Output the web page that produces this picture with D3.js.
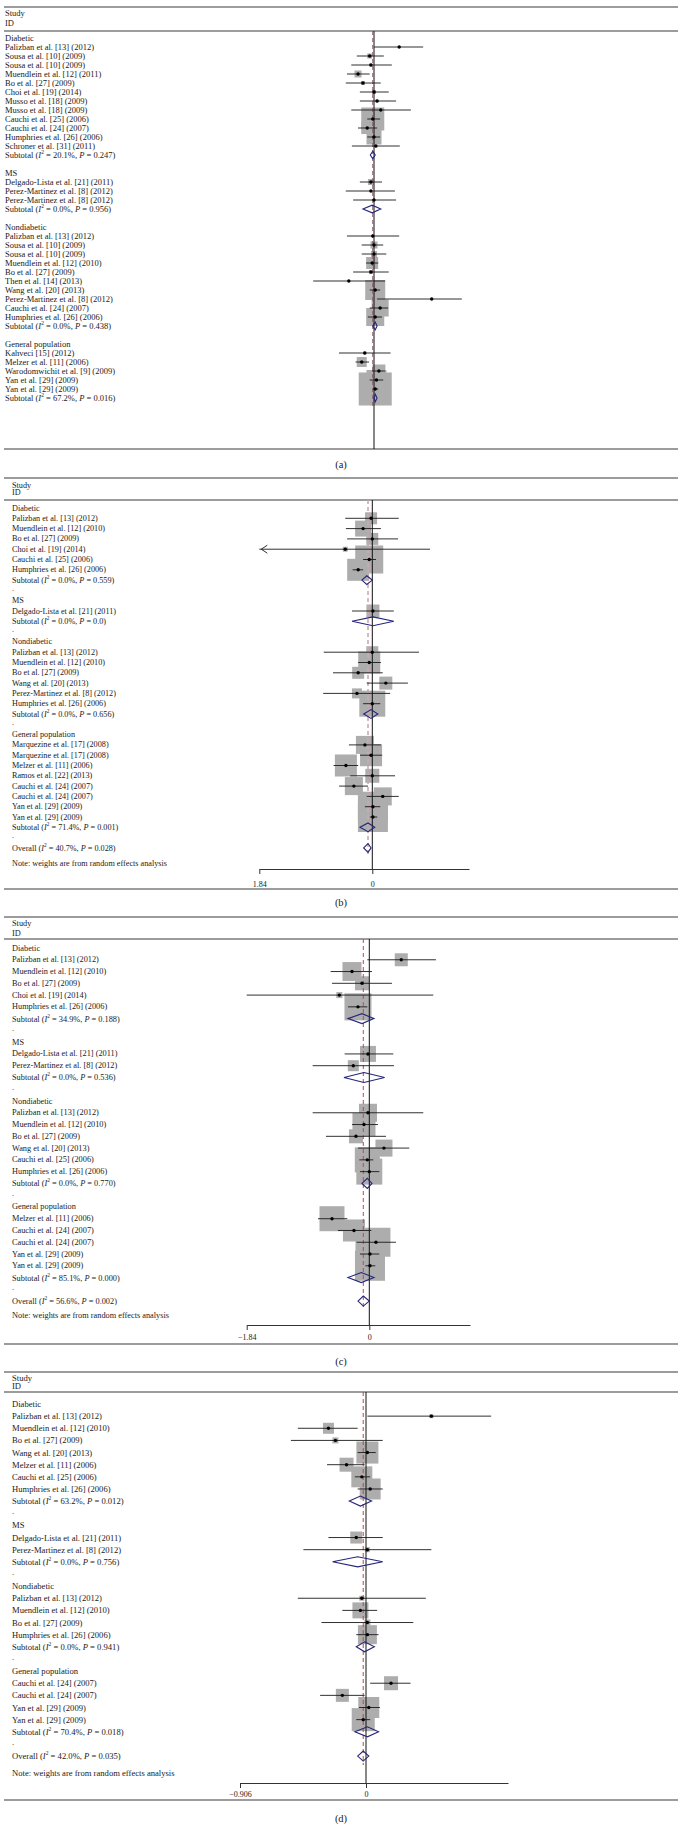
<!DOCTYPE html>
<html><head><meta charset="utf-8">
<script src="https://cdn.jsdelivr.net/npm/d3@7"></script>
<style>body{margin:0;background:#fff}svg{display:block}</style>
</head><body>
<svg id="chart" width="682" height="1827"></svg>
<script>
const groupNames = ["Diabetic", "MS", "Nondiabetic", "General population"];

// ---------- Panel (a) ----------
const aStudies = [
 "Palizban et al. [13] (2012)","Sousa et al. [10] (2009)","Sousa et al. [10] (2009)","Muendlein et al. [12] (2011)",
 "Bo et al. [27] (2009)","Choi et al. [19] (2014)","Musso et al. [18] (2009)","Musso et al. [18] (2009)",
 "Cauchi et al. [25] (2006)","Cauchi et al. [24] (2007)","Humphries et al. [26] (2006)","Schroner et al. [31] (2011)",
 "Delgado-Lista et al. [21] (2011)","Perez-Martinez et al. [8] (2012)","Perez-Martinez et al. [8] (2012)",
 "Palizban et al. [13] (2012)","Sousa et al. [10] (2009)","Sousa et al. [10] (2009)","Muendlein et al. [12] (2010)",
 "Bo et al. [27] (2009)","Then et al. [14] (2013)","Wang et al. [20] (2013)","Perez-Martinez et al. [8] (2012)",
 "Cauchi et al. [24] (2007)","Humphries et al. [26] (2006)",
 "Kahveci [15] (2012)","Melzer et al. [11] (2006)","Warodomwichit et al. [9] (2009)","Yan et al. [29] (2009)","Yan et al. [29] (2009)"];
const aGroupSizes = [12, 3, 10, 5];
const aEst  = [0.41,-0.07,-0.05,-0.26,-0.18,0.00,0.05,0.11,-0.02,-0.11,0.00,0.03, -0.05,-0.05,0.00, -0.02,0.00,0.00,-0.03,-0.05,-0.41,0.02,0.94,0.10,0.02, -0.15,-0.20,0.08,0.04,0.02];
const aLow  = [0.00,-0.28,-0.37,-0.44,-0.46,-0.23,-0.23,-0.37,-0.11,-0.26,-0.11,-0.36, -0.23,-0.46,-0.34, -0.44,-0.20,-0.20,-0.13,-0.34,-0.99,-0.07,0.05,-0.07,-0.10, -0.57,-0.30,-0.03,-0.07,-0.02];
const aHigh = [0.80,0.16,0.29,-0.07,0.11,0.24,0.36,0.60,0.10,0.05,0.10,0.42, 0.13,0.34,0.36, 0.41,0.15,0.20,0.07,0.24,0.18,0.10,1.43,0.23,0.13, 0.27,-0.08,0.18,0.15,0.07];
const aWeight = [0.16,1,0.36,1.96,0.64,0.64,0.36,0.36,21.2,5.76,9,0.36, 1.44,0.16,0.16, 0.16,1.96,1.44,5.76,0.64,0.16,16,0.16,11.6,13, 0.36,4,6.76,16,43.6];
const aSubEst = [-0.02,-0.03,0.02,0.02];
const aSubLow = [-0.06,-0.18,-0.02,0.00];
const aSubHigh = [0.02,0.11,0.05,0.05];
const aSubI2 = ["20.1%","0.0%","0.0%","67.2%"];
const aSubP = ["0.247","0.956","0.438","0.016"];
const aOverallEst = -0.02;

// ---------- Panel (b) ----------
const bStudies = [
 "Palizban et al. [13] (2012)","Muendlein et al. [12] (2010)","Bo et al. [27] (2009)","Choi et al. [19] (2014)","Cauchi et al. [25] (2006)","Humphries et al. [26] (2006)",
 "Delgado-Lista et al. [21] (2011)",
 "Palizban et al. [13] (2012)","Muendlein et al. [12] (2010)","Bo et al. [27] (2009)","Wang et al. [20] (2013)","Perez-Martinez et al. [8] (2012)","Humphries et al. [26] (2006)",
 "Marquezine et al. [17] (2008)","Marquezine et al. [17] (2008)","Melzer et al. [11] (2006)","Ramos et al. [22] (2013)","Cauchi et al. [24] (2007)","Cauchi et al. [24] (2007)","Yan et al. [29] (2009)","Yan et al. [29] (2009)"];
const bGroupSizes = [6, 1, 6, 8];
const bEst  = [-0.02,-0.15,0.00,-0.44,-0.05,-0.23, 0.01, 0.00,-0.05,-0.23,0.22,-0.25,0.00, -0.12,-0.02,-0.43,0.00,-0.30,0.17,0.01,0.01];
const bLow  = [-0.44,-0.43,-0.41,-2.40,-0.15,-0.32, -0.33, -0.79,-0.23,-0.64,-0.09,-0.80,-0.15, -0.38,-0.20,-0.63,-0.36,-0.54,-0.09,-0.12,-0.04];
const bHigh = [0.43,0.14,0.42,0.94,0.06,-0.15, 0.35, 0.76,0.14,0.17,0.58,0.29,0.13, 0.14,0.16,-0.23,0.37,-0.07,0.43,0.13,0.08];
const bWeight = [5.76,10.2,5.76,1,31.4,19.4, 6.76, 5.76,19.4,5.76,6.76,4,27, 13,19.4,19.4,7.84,13,13,36,36];
const bSubEst = [-0.09,0.01,-0.02,-0.07];
const bSubLow = [-0.17,-0.33,-0.14,-0.20];
const bSubHigh = [0.00,0.35,0.09,0.04];
const bSubI2 = ["0.0%","0.0%","0.0%","71.4%"];
const bSubP = ["0.559","0.0","0.656","0.001"];
const bOverall = [-0.07,-0.14,-0.02]; // est, low, high
const bOverallI2 = "40.7%", bOverallP = "0.028";
const bTicks = [-1.84, 0];
const bTickLabels = ["1.84", "0"];

// ---------- Panel (c) ----------
const cStudies = [
 "Palizban et al. [13] (2012)","Muendlein et al. [12] (2010)","Bo et al. [27] (2009)","Choi et al. [19] (2014)","Humphries et al. [26] (2006)",
 "Delgado-Lista et al. [21] (2011)","Perez-Martinez et al. [8] (2012)",
 "Palizban et al. [13] (2012)","Muendlein et al. [12] (2010)","Bo et al. [27] (2009)","Wang et al. [20] (2013)","Cauchi et al. [25] (2006)","Humphries et al. [26] (2006)",
 "Melzer et al. [11] (2006)","Cauchi et al. [24] (2007)","Cauchi et al. [24] (2007)","Yan et al. [29] (2009)","Yan et al. [29] (2009)"];
const cGroupSizes = [5, 2, 6, 5];
const cEst  = [0.48,-0.26,-0.11,-0.45,-0.17, -0.02,-0.24, -0.02,-0.08,-0.20,0.22,-0.03,0.00, -0.56,-0.23,0.10,0.01,0.01];
const cLow  = [-0.03,-0.58,-0.56,-1.84,-0.32, -0.37,-0.85, -0.85,-0.26,-0.65,-0.17,-0.15,-0.14, -0.77,-0.47,-0.19,-0.14,-0.06];
const cHigh = [1.00,0.04,0.34,0.96,-0.03, 0.36,0.37, 0.81,0.13,0.25,0.60,0.06,0.15, -0.33,0.03,0.40,0.15,0.09];
const cWeight = [6.76,14.4,7.84,1.44,29.2, 10.2,4.84, 13,21.2,7.84,11.6,25,27, 25,19.4,33.6,33.6,36];
const cSubEst = [-0.11,-0.08,-0.03,-0.12];
const cSubLow = [-0.32,-0.38,-0.11,-0.32];
const cSubHigh = [0.07,0.23,0.04,0.07];
const cSubI2 = ["34.9%","0.0%","0.0%","85.1%"];
const cSubP = ["0.188","0.536","0.770","0.000"];
const cOverall = [-0.09,-0.17,0.00];
const cOverallI2 = "56.6%", cOverallP = "0.002";
const cTicks = [-1.84, 0];
const cTickLabels = ["\u22121.84", "0"];

// ---------- Panel (d) ----------
const dStudies = [
 "Palizban et al. [13] (2012)","Muendlein et al. [12] (2010)","Bo et al. [27] (2009)","Wang et al. [20] (2013)","Melzer et al. [11] (2006)","Cauchi et al. [25] (2006)","Humphries et al. [26] (2006)",
 "Delgado-Lista et al. [21] (2011)","Perez-Martinez et al. [8] (2012)",
 "Palizban et al. [13] (2012)","Muendlein et al. [12] (2010)","Bo et al. [27] (2009)","Humphries et al. [26] (2006)",
 "Cauchi et al. [24] (2007)","Cauchi et al. [24] (2007)","Yan et al. [29] (2009)","Yan et al. [29] (2009)"];
const dGroupSizes = [7, 2, 4, 4];
const dEst  = [0.47,-0.27,-0.22,0.01,-0.14,-0.03,0.03, -0.07,0.01, -0.03,-0.04,0.01,0.01, 0.18,-0.17,0.02,-0.02];
const dLow  = [0.01,-0.49,-0.54,-0.06,-0.28,-0.08,-0.06, -0.27,-0.45, -0.49,-0.17,-0.32,-0.07, 0.03,-0.33,-0.05,-0.07];
const dHigh = [0.90,-0.06,0.12,0.07,-0.01,0.03,0.12, 0.12,0.47, 0.43,0.08,0.34,0.09, 0.32,-0.01,0.10,0.03];
const dWeight = [0.64,4.84,1.44,19.4,7.84,17.6,17.6, 5.76,1, 1,10.2,1.44,14.4, 7.84,6.76,17.6,21.2];
const dSubEst = [-0.04,-0.06,-0.01,0.01];
const dSubLow = [-0.12,-0.24,-0.07,-0.08];
const dSubHigh = [0.04,0.12,0.06,0.09];
const dSubI2 = ["63.2%","0.0%","0.0%","70.4%"];
const dSubP = ["0.012","0.756","0.941","0.018"];
const dOverall = [-0.02,-0.06,0.02];
const dOverallI2 = "42.0%", dOverallP = "0.035";
const dTicks = [-0.906, 0];
const dTickLabels = ["\u22120.906", "0"];

// ---------- drawing ----------
const svg = d3.select("#chart");
const FONT = "'Liberation Serif','Times New Roman',serif";
const boxSide = d3.scaleSqrt().domain([0, 100]).range([0, 50]);

const panels = [
 {label:"(a)", studies:aStudies, sizes:aGroupSizes, est:aEst, lo:aLow, hi:aHigh, w:aWeight,
  subEst:aSubEst, subLo:aSubLow, subHi:aSubHigh, subI2:aSubI2, subP:aSubP, overallLine:aOverallEst, overall:null,
  ticks:[], tickLabels:[], domain:[-1.84,1.84],
  L:{range:[261,487], top:7, study:13, id:23, header:31, first:38, step:9.0, bottom:449, labelY:464, textX:5, fs:8.5,
     sep:"", axisY:null, dashEnd:406, dash:"#8a5868", dashW:1}},
 {label:"(b)", studies:bStudies, sizes:bGroupSizes, est:bEst, lo:bLow, hi:bHigh, w:bWeight,
  subEst:bSubEst, subLo:bSubLow, subHi:bSubHigh, subI2:bSubI2, subP:bSubP, overallLine:bOverall[0],
  overall:{v:bOverall, i2:bOverallI2, p:bOverallP}, ticks:bTicks, tickLabels:bTickLabels, domain:[-1.84,1.84],
  L:{range:[259.3,485.3], top:478, study:485, id:492, header:500, first:508, step:10.3, note:863, axisY:869, axisEnd:469,
     tickLab:884, bottom:889, labelY:902, textX:12, fs:8.2, sep:".", dashEnd:857, dash:"#cfa9b0", dashW:1.6}},
 {label:"(c)", studies:cStudies, sizes:cGroupSizes, est:cEst, lo:cLow, hi:cHigh, w:cWeight,
  subEst:cSubEst, subLo:cSubLow, subHi:cSubHigh, subI2:cSubI2, subP:cSubP, overallLine:cOverall[0],
  overall:{v:cOverall, i2:cOverallI2, p:cOverallP}, ticks:cTicks, tickLabels:cTickLabels, domain:[-1.84,1.84],
  L:{range:[246.7,491.9], top:917, study:923, id:933, header:939, first:948, step:11.77, note:1315, axisY:1325, axisEnd:470,
     tickLab:1337, bottom:1344, labelY:1361, textX:12, fs:8.3, sep:".", dashEnd:1310, dash:"#c04858", dashW:1}},
 {label:"(d)", studies:dStudies, sizes:dGroupSizes, est:dEst, lo:dLow, hi:dHigh, w:dWeight,
  subEst:dSubEst, subLo:dSubLow, subHi:dSubHigh, subI2:dSubI2, subP:dSubP, overallLine:dOverall[0],
  overall:{v:dOverall, i2:dOverallI2, p:dOverallP}, ticks:dTicks, tickLabels:dTickLabels, domain:[-0.906,0.906],
  L:{range:[240,492], top:1372, study:1378, id:1386, header:1392, first:1404, step:12.14, note:1773, axisY:1783, axisEnd:508,
     tickLab:1794, bottom:1800, labelY:1818, textX:12, fs:8.6, sep:".", dashEnd:1765, dash:"#b84848", dashW:1}}
];

function statText(g, x, y, fs, prefix, i2, p) {
  const t = g.append("text").attr("x", x).attr("y", y).attr("font-size", fs).attr("dominant-baseline","central");
  t.append("tspan").text(prefix + " (");
  t.append("tspan").attr("font-style","italic").text("I");
  t.append("tspan").attr("font-size", fs*0.65).attr("dy", -3).text("2");
  t.append("tspan").attr("dy", 3).text(" = " + i2 + ",  ");
  t.append("tspan").attr("font-style","italic").text("P");
  t.append("tspan").text(" = " + p + ")");
}

function diamond(g, x, y, v, h) {
  const [e, lo, hi] = v;
  g.append("path")
    .attr("d", `M${x(lo)},${y}L${x(e)},${y-h/2}L${x(hi)},${y}L${x(e)},${y+h/2}Z`)
    .attr("fill","none").attr("stroke","#25257a").attr("stroke-width",1.1);
}

panels.forEach(p => {
  const L = p.L;
  const g = svg.append("g").attr("font-family", FONT).attr("fill", "#1a1a1a");
  const x = d3.scaleLinear().domain(p.domain).range(L.range);
  const rowY = i => L.first + i * L.step;

  // rows
  const rows = [];
  let si = 0;
  p.sizes.forEach((n, gi) => {
    rows.push({type:"group", label:groupNames[gi]});
    for (let k = 0; k < n; k++, si++)
      rows.push({type:"study", label:p.studies[si], v:[p.est[si], p.lo[si], p.hi[si]], w:p.w[si]});
    rows.push({type:"sub", v:[p.subEst[gi], p.subLo[gi], p.subHi[gi]], i2:p.subI2[gi], p:p.subP[gi]});
    rows.push({type:"sep"});
  });
  if (p.overall) rows.push({type:"overall", v:p.overall.v, i2:p.overall.i2, p:p.overall.p});

  // rules
  [L.top, L.header, L.bottom].forEach(yy => {
    g.append("line").attr("x1", 4).attr("x2", 678).attr("y1", yy).attr("y2", yy)
      .attr("stroke", "#3a3a3a").attr("stroke-width", 1.1);
  });
  g.append("text").attr("x", L.textX).attr("y", L.study).attr("font-size", L.fs).attr("dominant-baseline","central").text("Study");
  g.append("text").attr("x", L.textX).attr("y", L.id).attr("font-size", L.fs).attr("dominant-baseline","central").text("ID");

  // boxes
  rows.forEach((r, i) => {
    if (r.type !== "study") return;
    const s = boxSide(r.w);
    g.append("rect").attr("x", x(r.v[0]) - s/2).attr("y", rowY(i) - s/2)
      .attr("width", s).attr("height", s).attr("fill", "#adadad");
  });

  // null line and overall dashed line
  const nullEnd = L.axisY != null ? L.axisY : L.bottom;
  g.append("line").attr("x1", x(0)).attr("x2", x(0)).attr("y1", L.header).attr("y2", nullEnd)
    .attr("stroke", "#111").attr("stroke-width", 1);
  g.append("line").attr("x1", x(p.overallLine)).attr("x2", x(p.overallLine)).attr("y1", L.header).attr("y2", L.dashEnd)
    .attr("stroke", L.dash).attr("stroke-width", L.dashW).attr("stroke-dasharray", "4,3");

  // rows: text, CIs, points, diamonds
  rows.forEach((r, i) => {
    const y = rowY(i);
    if (r.type === "group" || r.type === "study") {
      g.append("text").attr("x", L.textX).attr("y", y).attr("font-size", L.fs).attr("dominant-baseline","central").text(r.label);
    }
    if (r.type === "sep" && L.sep) {
      g.append("text").attr("x", L.textX).attr("y", y - 2).attr("font-size", L.fs).attr("dominant-baseline","central").text(L.sep);
    }
    if (r.type === "study") {
      const [e, lo, hi] = r.v;
      const d0 = p.domain[0];
      const clipped = lo < d0;
      const x1 = x(clipped ? d0 : lo);
      g.append("line").attr("x1", x1).attr("x2", x(hi)).attr("y1", y).attr("y2", y)
        .attr("stroke", "#1a1a1a").attr("stroke-width", 0.9);
      if (clipped) {
        const ax = x1 + 2;
        g.append("path").attr("d", `M${ax+6},${y-4}L${ax},${y}L${ax+6},${y+4}`)
          .attr("fill","none").attr("stroke","#1a1a1a").attr("stroke-width",0.9);
      }
      g.append("circle").attr("cx", x(e)).attr("cy", y).attr("r", 1.7).attr("fill", "#000");
    }
    if (r.type === "sub") {
      statText(g, L.textX, y, L.fs, "Subtotal", r.i2, r.p);
      diamond(g, x, y, r.v, Math.min(L.step * 0.85, 10));
    }
    if (r.type === "overall") {
      statText(g, L.textX, y, L.fs, "Overall", r.i2, r.p);
      diamond(g, x, y, r.v, Math.min(L.step * 0.85, 10));
    }
  });

  if (L.note) {
    g.append("text").attr("x", L.textX).attr("y", L.note).attr("font-size", L.fs).attr("dominant-baseline","central")
      .text("Note: weights are from random effects analysis");
  }

  // axis
  if (p.ticks.length) {
    const xa = x.copy().domain([p.ticks[0], x.invert(L.axisEnd)]).range([x(p.ticks[0]), L.axisEnd]);
    const ax = g.append("g").attr("transform", `translate(0,${L.axisY})`)
      .call(d3.axisBottom(xa).tickValues(p.ticks).tickFormat((d, i) => p.tickLabels[i]).tickSizeInner(5).tickSizeOuter(0).tickPadding(5));
    ax.select(".domain").attr("stroke", "#333").attr("stroke-width", 1);
    ax.selectAll(".tick line").attr("stroke", "#333");
    ax.selectAll(".tick text").attr("font-family", FONT).attr("font-size", 8).attr("fill", "#1a1a1a")
      .attr("dy", null).attr("y", L.tickLab - L.axisY).attr("dominant-baseline","central");
  }

  // panel label
  svg.append("text").attr("x", 341).attr("y", L.labelY).attr("text-anchor","middle").attr("dominant-baseline","central")
    .attr("font-family", FONT).attr("font-size", 10.5).attr("fill","#1a1a1a").text(p.label);
});
</script>
</body></html>
